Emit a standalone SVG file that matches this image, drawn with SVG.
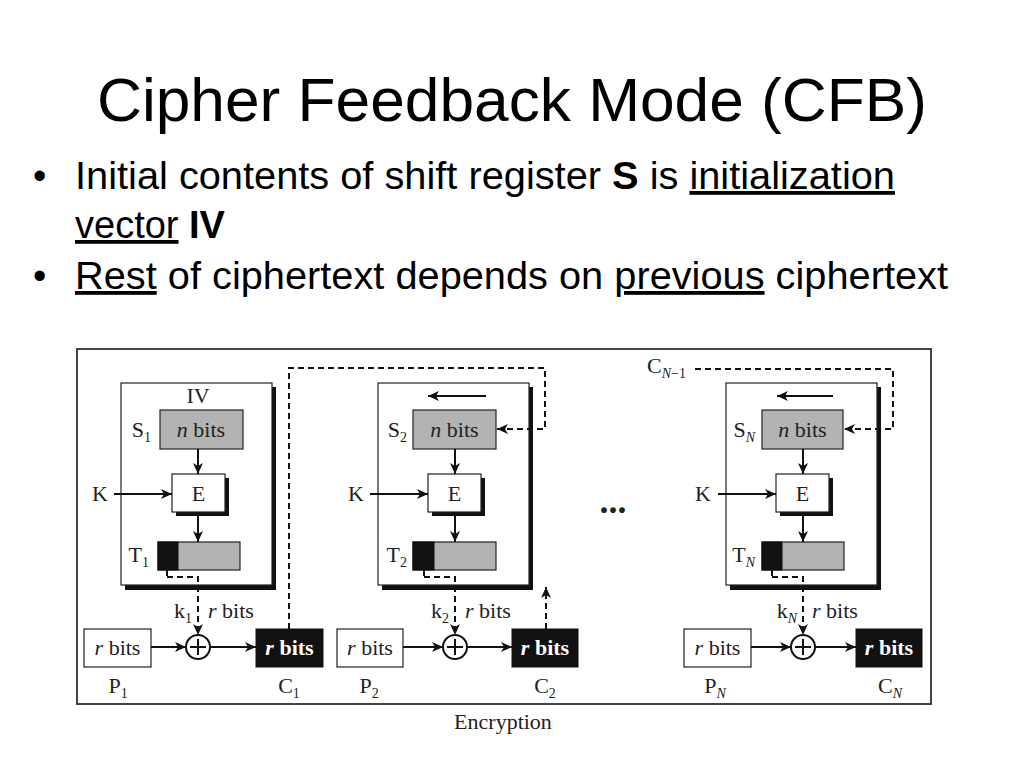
<svg xmlns="http://www.w3.org/2000/svg" width="1024" height="768" viewBox="0 0 1024 768">
<defs>
<style>
.title{font-family:"Liberation Sans",Arial,sans-serif;font-size:62px;fill:#000}
.bul{font-family:"Liberation Sans",Arial,sans-serif;font-size:38px;fill:#000}
.u{text-decoration:underline}
.b{font-weight:bold}
.lbl{font-family:"Liberation Serif","Times New Roman",serif;font-size:22px;fill:#222}
.sub{font-size:14px}
.it{font-style:italic}
.wt{fill:#fff;font-weight:bold}
.frame{fill:#fff;stroke:#444;stroke-width:2}
.blk{fill:#fff;stroke:#222;stroke-width:1.2}
.shadow{fill:#111}
.gray{fill:#b3b3b3;stroke:#222;stroke-width:1.2}
.wbox{fill:#fff;stroke:#222;stroke-width:1.2}
.cbox{fill:#111;stroke:#111}
.ln{fill:none;stroke:#111;stroke-width:2}
.dash{fill:none;stroke:#111;stroke-width:2;stroke-dasharray:6 4}
.xor{fill:#fff;stroke:#111;stroke-width:2}
</style>
<marker id="ah" markerUnits="userSpaceOnUse" markerWidth="11" markerHeight="10" refX="11" refY="5" orient="auto">
<path d="M0,0 L11,5 L0,10 L3,5 z" fill="#111"/>
</marker>
</defs>
<rect width="1024" height="768" fill="#fff"/>
<g id="title">
<text class="title" x="512" y="121" text-anchor="middle" textLength="830" lengthAdjust="spacingAndGlyphs">Cipher Feedback Mode (CFB)</text>
</g>
<g id="bullets">
<text class="bul" x="33" y="189">•</text>
<text class="bul" x="75" y="189" textLength="820" lengthAdjust="spacingAndGlyphs">Initial contents of shift register <tspan class="b">S</tspan> is <tspan class="u">initialization</tspan></text>
<text class="bul" x="75" y="238"><tspan class="u">vector</tspan> <tspan class="b">IV</tspan></text>
<text class="bul" x="33" y="289">•</text>
<text class="bul" x="75" y="289" textLength="873" lengthAdjust="spacingAndGlyphs"><tspan class="u">Rest</tspan> of ciphertext depends on <tspan class="u">previous</tspan> ciphertext</text>
</g>
<rect id="frame" class="frame" x="77" y="349" width="854" height="355"/>

<!-- Block 1 -->
<g id="block1">
<rect class="shadow" x="125" y="387" width="151" height="203"/>
<rect class="blk" x="121" y="383" width="151" height="202"/>
<text class="lbl" x="198" y="403" text-anchor="middle">IV</text>
<rect class="gray" x="160" y="410" width="83" height="39"/>
<text class="lbl" x="201" y="437" text-anchor="middle"><tspan class="it">n</tspan> bits</text>
<text class="lbl" x="151" y="437" text-anchor="end">S<tspan class="sub" dy="5">1</tspan></text>
<rect class="shadow" x="176" y="478" width="53" height="38"/>
<rect class="wbox" x="172" y="474" width="53" height="38"/>
<text class="lbl" x="198.5" y="501" text-anchor="middle">E</text>
<text class="lbl" x="100" y="501" text-anchor="middle">K</text>
<rect class="gray" x="158" y="542" width="82" height="28"/>
<rect class="cbox" x="158" y="542" width="20" height="28"/>
<text class="lbl" x="149" y="562" text-anchor="end">T<tspan class="sub" dy="5">1</tspan></text>
<text class="lbl" x="192" y="618" text-anchor="end">k<tspan class="sub" dy="5">1</tspan></text>
<text class="lbl" x="208" y="618"><tspan class="it">r</tspan> bits</text>
<circle class="xor" cx="198" cy="647" r="12"/>
<path class="ln" d="M190,647 H206 M198,639 V655"/>
</g>
<g id="p1">
<rect class="wbox" x="84" y="629" width="67" height="38"/>
<text class="lbl" x="117.5" y="655" text-anchor="middle"><tspan class="it">r</tspan> bits</text>
<text class="lbl" x="118" y="693" text-anchor="middle">P<tspan class="sub" dy="5">1</tspan></text>
</g>
<g id="c1">
<rect class="cbox" x="256" y="629" width="67" height="38"/>
<text class="lbl wt" x="289.5" y="655" text-anchor="middle"><tspan class="it">r</tspan> bits</text>
<text class="lbl" x="289" y="693" text-anchor="middle">C<tspan class="sub" dy="5">1</tspan></text>
</g>

<!-- Block 2 -->
<g id="block2">
<rect class="shadow" x="382" y="387" width="151" height="203"/>
<rect class="blk" x="378" y="383" width="151" height="202"/>
<rect class="gray" x="413" y="410" width="83" height="39"/>
<text class="lbl" x="454.5" y="437" text-anchor="middle"><tspan class="it">n</tspan> bits</text>
<text class="lbl" x="407" y="437" text-anchor="end">S<tspan class="sub" dy="5">2</tspan></text>
<rect class="shadow" x="432" y="478" width="53" height="38"/>
<rect class="wbox" x="428" y="474" width="53" height="38"/>
<text class="lbl" x="454.5" y="501" text-anchor="middle">E</text>
<text class="lbl" x="356" y="501" text-anchor="middle">K</text>
<rect class="gray" x="413" y="542" width="83" height="28"/>
<rect class="cbox" x="413" y="542" width="21" height="28"/>
<text class="lbl" x="407" y="562" text-anchor="end">T<tspan class="sub" dy="5">2</tspan></text>
<text class="lbl" x="449" y="618" text-anchor="end">k<tspan class="sub" dy="5">2</tspan></text>
<text class="lbl" x="465" y="618"><tspan class="it">r</tspan> bits</text>
<circle class="xor" cx="455" cy="647" r="12"/>
<path class="ln" d="M447,647 H463 M455,639 V655"/>
</g>
<g id="p2">
<rect class="wbox" x="337" y="629" width="66" height="38"/>
<text class="lbl" x="370" y="655" text-anchor="middle"><tspan class="it">r</tspan> bits</text>
<text class="lbl" x="369" y="693" text-anchor="middle">P<tspan class="sub" dy="5">2</tspan></text>
</g>
<g id="c2">
<rect class="cbox" x="512" y="629" width="66" height="38"/>
<text class="lbl wt" x="545" y="655" text-anchor="middle"><tspan class="it">r</tspan> bits</text>
<text class="lbl" x="545" y="693" text-anchor="middle">C<tspan class="sub" dy="5">2</tspan></text>
</g>

<g id="ellipsis">
<text class="lbl" x="613" y="513" text-anchor="middle" style="font-size:36px;font-weight:bold">...</text>
</g>

<!-- Block N -->
<g id="blockN">
<rect class="shadow" x="730" y="387" width="151" height="203"/>
<rect class="blk" x="726" y="383" width="151" height="202"/>
<rect class="gray" x="762" y="410" width="81" height="39"/>
<text class="lbl" x="802.5" y="437" text-anchor="middle"><tspan class="it">n</tspan> bits</text>
<text class="lbl" x="755" y="437" text-anchor="end">S<tspan class="sub it" dy="5">N</tspan></text>
<rect class="shadow" x="780" y="478" width="53" height="38"/>
<rect class="wbox" x="776" y="474" width="53" height="38"/>
<text class="lbl" x="802.5" y="501" text-anchor="middle">E</text>
<text class="lbl" x="703" y="501" text-anchor="middle">K</text>
<rect class="gray" x="762" y="542" width="82" height="28"/>
<rect class="cbox" x="762" y="542" width="20" height="28"/>
<text class="lbl" x="755" y="562" text-anchor="end">T<tspan class="sub it" dy="5">N</tspan></text>
<text class="lbl" x="797" y="618" text-anchor="end">k<tspan class="sub it" dy="5">N</tspan></text>
<text class="lbl" x="812" y="618"><tspan class="it">r</tspan> bits</text>
<circle class="xor" cx="803" cy="647" r="12"/>
<path class="ln" d="M795,647 H811 M803,639 V655"/>
</g>
<g id="pN">
<rect class="wbox" x="684" y="629" width="67" height="38"/>
<text class="lbl" x="717.5" y="655" text-anchor="middle"><tspan class="it">r</tspan> bits</text>
<text class="lbl" x="715" y="693" text-anchor="middle">P<tspan class="sub it" dy="5">N</tspan></text>
</g>
<g id="cN">
<rect class="cbox" x="856" y="629" width="66" height="38"/>
<text class="lbl wt" x="889" y="655" text-anchor="middle"><tspan class="it">r</tspan> bits</text>
<text class="lbl" x="890" y="693" text-anchor="middle">C<tspan class="sub it" dy="5">N</tspan></text>
</g>
<g id="cNm1">
<text class="lbl" x="647" y="373">C<tspan class="sub it" dy="5">N</tspan><tspan class="sub">−1</tspan></text>
</g>

<text id="caption" class="lbl" x="503" y="729" text-anchor="middle">Encryption</text>

<g id="connectors">
<!-- block1 -->
<line class="ln" x1="198" y1="449" x2="198" y2="474" marker-end="url(#ah)"/>
<line class="ln" x1="114" y1="494" x2="172" y2="494" marker-end="url(#ah)"/>
<line class="ln" x1="198" y1="512" x2="198" y2="542" marker-end="url(#ah)"/>
<path class="ln" d="M167,570 V576"/>
<path class="dash" d="M167,577 H198 V635" marker-end="url(#ah)"/>
<line class="ln" x1="151" y1="647" x2="186" y2="647" marker-end="url(#ah)"/>
<line class="ln" x1="210" y1="647" x2="256" y2="647" marker-end="url(#ah)"/>
<path class="dash" d="M289,629 V368 H545 V429 H497" marker-end="url(#ah)"/>
<!-- block2 -->
<line class="ln" x1="486" y1="396" x2="428" y2="396" marker-end="url(#ah)"/>
<line class="ln" x1="455" y1="449" x2="455" y2="474" marker-end="url(#ah)"/>
<line class="ln" x1="370" y1="494" x2="428" y2="494" marker-end="url(#ah)"/>
<line class="ln" x1="455" y1="512" x2="455" y2="542" marker-end="url(#ah)"/>
<path class="ln" d="M424,570 V576"/>
<path class="dash" d="M424,577 H455 V635" marker-end="url(#ah)"/>
<line class="ln" x1="403" y1="647" x2="443" y2="647" marker-end="url(#ah)"/>
<line class="ln" x1="467" y1="647" x2="512" y2="647" marker-end="url(#ah)"/>
<path class="dash" d="M546,629 V587" marker-end="url(#ah)"/>
<!-- blockN -->
<line class="ln" x1="833" y1="396" x2="777" y2="396" marker-end="url(#ah)"/>
<line class="ln" x1="803" y1="449" x2="803" y2="474" marker-end="url(#ah)"/>
<line class="ln" x1="718" y1="494" x2="776" y2="494" marker-end="url(#ah)"/>
<line class="ln" x1="803" y1="512" x2="803" y2="542" marker-end="url(#ah)"/>
<path class="ln" d="M772,570 V576"/>
<path class="dash" d="M772,577 H803 V635" marker-end="url(#ah)"/>
<line class="ln" x1="751" y1="647" x2="791" y2="647" marker-end="url(#ah)"/>
<line class="ln" x1="815" y1="647" x2="856" y2="647" marker-end="url(#ah)"/>
<path class="dash" d="M695,369 H893 V429 H844" marker-end="url(#ah)"/>
</g>
</svg>
